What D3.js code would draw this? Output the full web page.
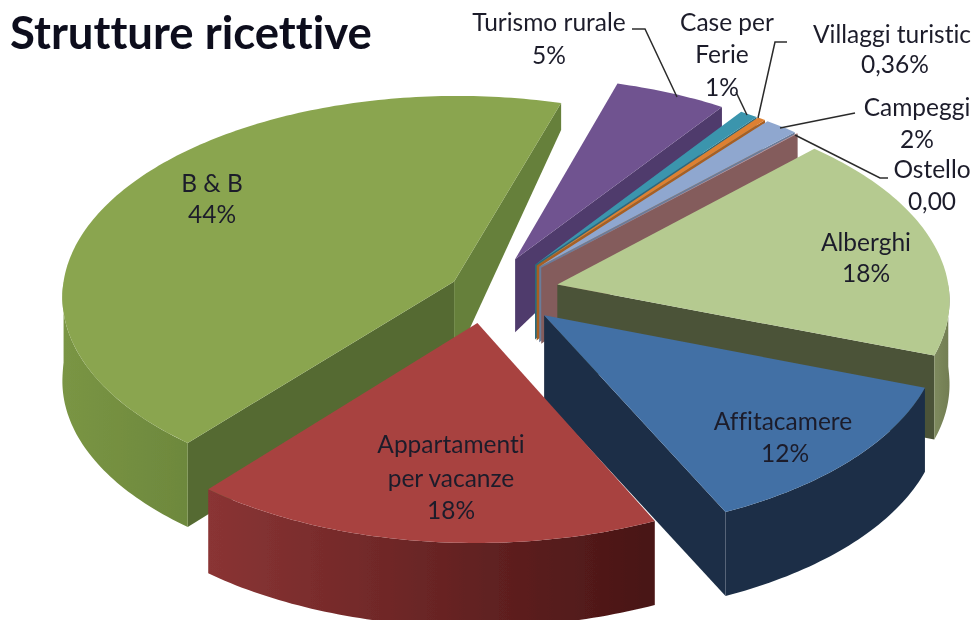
<!DOCTYPE html>
<html>
<head>
<meta charset="utf-8">
<script src="https://cdn.jsdelivr.net/npm/d3@7"></script>
<style>
html, body { margin: 0; background: #fff; }
text { font-family: Lato, "Open Sans", sans-serif; fill: #1d1d2b; font-variant-ligatures: none; }
</style>
</head>
<body>
<script>
// clockwise from the top-right edge of the B & B slice
var categories = ['Turismo rurale', 'Case per Ferie', 'Villaggi turistic', 'Campeggi', 'Ostello',
    'Alberghi', 'Affitacamere', 'Appartamenti per vacanze', 'B & B'];
var values = [5, 0.8, 0.36, 1.5, 0.05, 18.4, 12.4, 18, 43.6];
var topColors = ['#6f5290', '#3a95ad', '#dd8032', '#8fa7cf', '#cd9c9b', '#b5ca90', '#4270a5', '#a84241', '#8aa54f'];
var wallLeft = ['#4f3a6c', '#2a6b7c', '#a85f22', '#6a7c9a', '#845c5c', '#7e8a5e', '#1c2f47', '#8a3434', '#7a9544'];
var wallRight = ['#4f3a6c', '#2a6b7c', '#a85f22', '#6a7c9a', '#845c5c', '#727d52', '#1c2f47', '#481515', '#6d883d'];
var edgeColors = ['#4f3a6c', '#2a6b7c', '#a85f22', '#6a7c9a', '#845c5c', '#4c5338', '#1c2f47', '#481515', '#66803a'];
// the big slices and the purple one are pulled out off their own middle
var explodeTurn = [-12, 0, 0, 0, 0, 0, 0, 18, -8];
var explodeSize = [1, 1, 1, 1, 1, 1, 1, 1, 0.9];

var width = 975,
    height = 620;

var cx = 502, cy = 292,
    rx = 392, ry = 200,
    perspective = 0.07,
    explodeX = 0.145, explodeZ = 0.17;

var rad = Math.PI / 180;

// wall height grows with the screen y, it is short at the back
var wallHeight = d3.scaleLinear().domain([133, 290]).range([27, 84]).clamp(true);

var svg = d3.select('body').append('svg')
    .attr('width', width)
    .attr('height', height)
    .style('display', 'block');

var defs = svg.append('defs');
defs.append('filter').attr('id', 'soft')
    .append('feGaussianBlur').attr('stdDeviation', 0.55);

var root = svg.append('g').attr('filter', 'url(#soft)');

var line = d3.line();

function project(gx, gz) {
    var s = 1 / (1 - perspective * gz);
    return [cx + rx * gx * s, cy + ry * gz * s];
}

function lower(p) {
    return [p[0], p[1] + wallHeight(p[1])];
}

var pie = d3.pie().sort(null).startAngle(16.5 * rad).endAngle(376.5 * rad);

var slices = pie(values).map(function(d, i) {
    var mid = (d.startAngle + d.endAngle) / 2 + explodeTurn[i] * rad;
    var ox = explodeX * explodeSize[i] * Math.sin(mid),
        oz = -explodeZ * explodeSize[i] * Math.cos(mid);
    return {
        i: i,
        start: d.startAngle,
        end: d.endAngle,
        depth: -Math.cos(mid),
        apex: project(ox, oz),
        rim: function(a) { return project(ox + Math.sin(a), oz - Math.cos(a)); }
    };
});

function arcPoints(s, a0, a1) {
    var n = Math.max(2, Math.ceil((a1 - a0) / (1 * rad)));
    return d3.range(n + 1).map(function(k) { return s.rim(a0 + (a1 - a0) * k / n); });
}

function wall(points) {
    return points.concat(points.map(lower).reverse());
}

// back slices first
slices.sort(function(a, b) { return d3.ascending(a.depth, b.depth); });

slices.forEach(function(s) {
    var g = root.append('g').attr('class', 'slice');

    // a straight side shows only if it looks towards the viewer
    if (Math.sin(s.start) < 0) {
        g.append('path')
            .attr('d', line(wall([s.apex, s.rim(s.start)])) + 'Z')
            .attr('fill', d3.color(edgeColors[s.i]).darker(0.5));
    }
    if (Math.sin(s.end) > 0) {
        g.append('path')
            .attr('d', line(wall([s.apex, s.rim(s.end)])) + 'Z')
            .attr('fill', edgeColors[s.i]);
    }

    // round side, only its near half
    var a0 = Math.max(s.start, 90 * rad),
        a1 = Math.min(s.end, 270 * rad);
    if (a1 > a0) {
        var pts = arcPoints(s, a0, a1);
        var xs = d3.extent(pts, function(p) { return p[0]; });
        var id = 'wall-' + s.i;
        var grad = defs.append('linearGradient')
            .attr('id', id)
            .attr('gradientUnits', 'userSpaceOnUse')
            .attr('x1', xs[0]).attr('x2', xs[1])
            .attr('y1', 0).attr('y2', 0);
        grad.append('stop').attr('offset', 0).attr('stop-color', wallLeft[s.i]);
        grad.append('stop').attr('offset', 1).attr('stop-color', wallRight[s.i]);
        g.append('path')
            .attr('d', line(wall(pts)) + 'Z')
            .attr('fill', 'url(#' + id + ')');
    }

    g.append('path')
        .attr('d', line([s.apex].concat(arcPoints(s, s.start, s.end))) + 'Z')
        .attr('fill', topColors[s.i]);
});

// leader lines for the labels outside the pie
var leaders = [
    [[632, 29], [645, 29], [677, 97]],
    [[736, 92], [747, 115]],
    [[787, 42], [775, 42], [758, 118]],
    [[780, 128], [855, 113]],
    [[795, 135], [880, 178], [888, 178]]
];

root.selectAll('.leader')
    .data(leaders).enter()
    .append('path')
    .attr('class', 'leader')
    .attr('d', function(d) { return line(d); })
    .attr('fill', 'none')
    .attr('stroke', '#2b2b2b')
    .attr('stroke-width', 1.5);

var labels = [
    ['Turismo rurale', 549, 31],
    ['5%', 549, 64],
    ['Case per', 727, 31],
    ['Ferie', 722, 63],
    ['1%', 722, 96],
    ['Villaggi turistic', 892, 43],
    ['0,36%', 895, 73],
    ['Campeggi', 917, 116],
    ['2%', 917, 148],
    ['Ostello', 932, 178],
    ['0,00', 932, 210],
    ['Alberghi', 866, 251],
    ['18%', 866, 282],
    ['Affitacamere', 783, 430],
    ['12%', 785, 462],
    ['Appartamenti', 451, 453],
    ['per vacanze', 451, 487],
    ['18%', 451, 519],
    ['B & B', 212, 192],
    ['44%', 212, 223]
];

root.selectAll('.label')
    .data(labels).enter()
    .append('text')
    .attr('class', 'label')
    .attr('x', function(d) { return d[1]; })
    .attr('y', function(d) { return d[2]; })
    .attr('text-anchor', 'middle')
    .attr('font-size', 24.5)
    .text(function(d) { return d[0]; });

root.append('text')
    .attr('x', 10)
    .attr('y', 49)
    .attr('font-size', 45.5)
    .attr('font-weight', 700)
    .style('fill', '#0b0f1e')
    .text('Strutture ricettive');
</script>
</body>
</html>
